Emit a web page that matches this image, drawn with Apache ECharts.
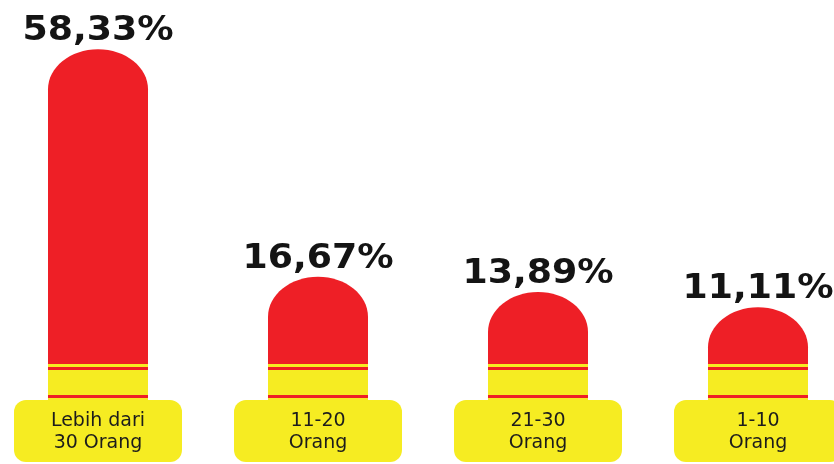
<!DOCTYPE html>
<html>
<head>
<meta charset="utf-8">
<script src="https://cdn.jsdelivr.net/npm/echarts@6/dist/echarts.min.js"></script>
<style>
  html, body { margin: 0; padding: 0; background: #ffffff; overflow: hidden; }
  /* the plotting area is a little wider than the page so the outer columns sit near the edges */
  #chart { width: 880px; height: 464px; margin-left: -12px; }
</style>
</head>
<body>
<div id="chart"></div>
<script>
// Group sizes (categories) and their share of respondents, in percent
const categories = ['Lebih dari\n30 Orang', '11-20\nOrang', '21-30\nOrang', '1-10\nOrang'];
const shares = [58.33, 16.67, 13.89, 11.11];

const RED = '#EE1F26';
const YELLOW = '#F6EC22';

function formatShare(v) {
  return v.toFixed(2).replace('.', ',') + '%';
}

// Each column: red body with an elliptical cap, a striped yellow foot and the value on top
function renderColumn(params, api) {
  const idx = api.value(0);
  const val = api.value(1);
  const top = api.coord([idx, val]);
  const zero = api.coord([idx, 0]);
  const cx = top[0];
  const half = 50;
  const x0 = cx - half, x1 = cx + half;
  const yt = top[1], y0 = zero[1];
  const rx = half, ry = Math.min(40, y0 - yt);
  const k = 0.5523;
  const yc = yt + ry;
  const body =
    'M' + x0 + ' ' + y0 +
    ' L' + x0 + ' ' + yc +
    ' C' + x0 + ' ' + (yc - k * ry) + ' ' + (cx - k * rx) + ' ' + yt + ' ' + cx + ' ' + yt +
    ' C' + (cx + k * rx) + ' ' + yt + ' ' + x1 + ' ' + (yc - k * ry) + ' ' + x1 + ' ' + yc +
    ' L' + x1 + ' ' + y0 + ' Z';
  return {
    type: 'group',
    children: [
      { type: 'path', shape: { pathData: body }, style: { fill: RED } },
      { type: 'rect', shape: { x: x0, y: y0 - 4, width: 2 * half, height: 36 }, style: { fill: YELLOW } },
      { type: 'rect', shape: { x: x0, y: y0 - 1, width: 2 * half, height: 3 }, style: { fill: RED } },
      { type: 'rect', shape: { x: x0, y: y0 + 27, width: 2 * half, height: 3 }, style: { fill: RED } },
      {
        type: 'text',
        x: cx, y: yt - 1,
        scaleX: 1.1,
        style: {
          text: formatShare(val),
          align: 'center', verticalAlign: 'bottom',
          font: 'bold 33px "DejaVu Sans"',
          fill: '#141414'
        }
      }
    ]
  };
}

const chart = echarts.init(document.getElementById('chart'));
chart.setOption({
  backgroundColor: '#ffffff',
  animation: false,
  grid: { left: 0, right: 0, top: 40, bottom: 96 },
  xAxis: {
    type: 'category',
    data: categories,
    axisLine: { show: false },
    axisTick: { show: false },
    axisLabel: {
      interval: 0,
      margin: 32,
      width: 168,
      align: 'center',
      lineHeight: 22,
      padding: [10, 0, 8, 0],
      backgroundColor: YELLOW,
      borderRadius: 12,
      color: '#1c1c1c',
      fontFamily: 'DejaVu Sans',
      fontSize: 19
    }
  },
  yAxis: {
    type: 'value',
    min: 0,
    max: 60,
    show: false
  },
  series: [{
    type: 'custom',
    renderItem: renderColumn,
    data: shares.map((v, i) => [i, v])
  }]
});
</script>
</body>
</html>
